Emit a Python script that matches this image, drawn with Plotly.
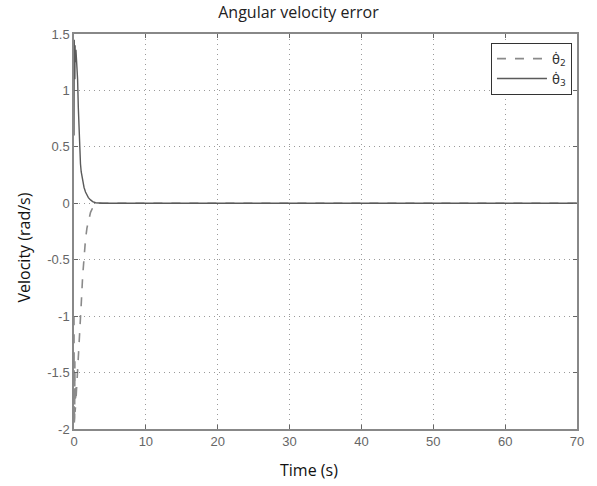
import plotly.graph_objects as go

time = [0, 0.03, 0.06, 0.09, 0.12, 0.15, 0.18, 0.21, 0.24, 0.27, 0.3, 0.35, 0.4, 0.5, 0.6,
        0.7, 0.8, 0.9, 1.0, 1.2, 1.4, 1.6, 1.8, 2.0, 2.3, 2.6, 3.0, 3.5, 4.0,
        10, 20, 30, 40, 50, 60, 70]
theta2_dot = [-1.0, -1.95, -1.2, -1.9, -1.4, -1.85, -1.5, -1.8, -1.6, -1.75, -1.7, -1.65, -1.6, -1.5, -1.4,
              -1.3, -1.2, -1.05, -0.9, -0.65, -0.45, -0.32, -0.22, -0.15, -0.08, -0.04, -0.01, 0.0, 0.0,
              0, 0, 0, 0, 0, 0, 0]
theta3_dot = [0.6, 1.45, 0.9, 1.42, 1.1, 1.4, 1.25, 1.38, 1.3, 1.36, 1.33, 1.3, 1.25, 1.1, 0.85,
              0.6, 0.45, 0.35, 0.28, 0.2, 0.14, 0.1, 0.07, 0.05, 0.03, 0.015, 0.005, 0.0, 0.0,
              0, 0, 0, 0, 0, 0, 0]

x_ticks = [0, 10, 20, 30, 40, 50, 60, 70]
y_ticks = [-2, -1.5, -1, -0.5, 0, 0.5, 1, 1.5]
y_tick_labels = ["-2", "-1.5", "-1", "-0.5", "0", "0.5", "1", "1.5"]

fig = go.Figure()
fig.add_trace(go.Scatter(x=time, y=theta2_dot, mode="lines", name="θ̇<sub>2</sub>",
                         line=dict(color="#8a8a8a", width=1.6, dash="dash")))
fig.add_trace(go.Scatter(x=time, y=theta3_dot, mode="lines", name="θ̇<sub>3</sub>",
                         line=dict(color="#5a5a5a", width=1.4)))

axis_common = dict(showline=True, mirror="ticks", linecolor="#888888", linewidth=1.5,
                   ticks="inside", ticklen=4, tickcolor="#666666",
                   showgrid=True, gridcolor="#9a9a9a", griddash="1px,4px", gridwidth=1,
                   zeroline=False,
                   tickfont=dict(family="Liberation Sans", size=13, color="#666666"))

fig.update_layout(
    width=597, height=486,
    margin=dict(l=74, r=20, t=34, b=57),
    paper_bgcolor="white", plot_bgcolor="white",
    title=dict(text="Angular velocity error", x=0.5, xanchor="center", y=0.985, yanchor="top",
               font=dict(family="Open Sans", size=16, color="#222222")),
    xaxis=dict(range=[0, 70], tickvals=x_ticks, **axis_common),
    yaxis=dict(range=[-2, 1.5], tickvals=y_ticks, ticktext=y_tick_labels, **axis_common),
    legend=dict(x=0.99, y=0.978, xanchor="right", yanchor="top",
                bordercolor="#333333", borderwidth=1, bgcolor="white", itemwidth=50,
                font=dict(family="DejaVu Sans", size=13, color="#333333")),
    showlegend=True,
    annotations=[
        dict(text="Time (s)", xref="paper", yref="paper", x=0.467, y=-0.105,
             xanchor="center", yanchor="middle", showarrow=False,
             font=dict(family="Open Sans", size=16, color="#111111")),
        dict(text="Velocity (rad/s)", xref="paper", yref="paper", x=-0.099, y=0.46,
             xanchor="center", yanchor="middle", showarrow=False, textangle=-90,
             font=dict(family="Open Sans", size=16, color="#111111")),
    ],
)

fig.write_html("out.html")
